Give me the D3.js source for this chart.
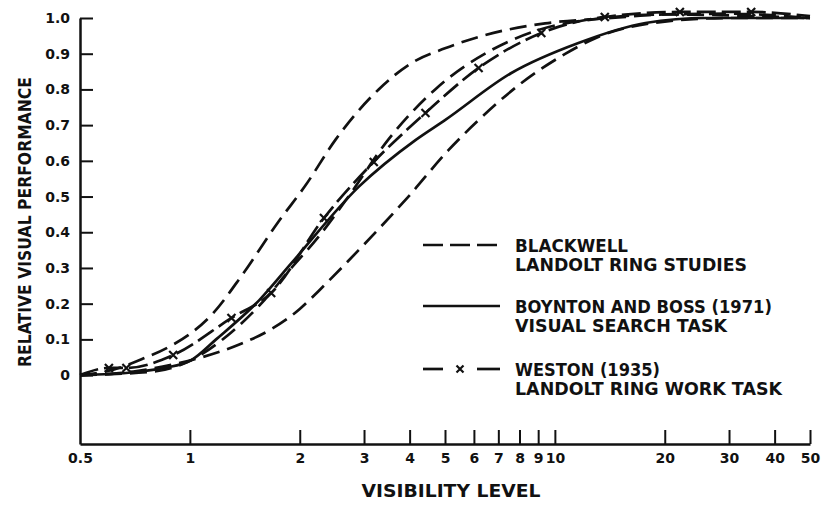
<!DOCTYPE html>
<html>
<head>
<meta charset="utf-8">
<script src="https://cdn.jsdelivr.net/npm/d3@7"></script>
<style>
  body { margin: 0; background: #fff; }
  text { font-family: "DejaVu Sans", sans-serif; font-weight: bold; fill: #111; }
</style>
</head>
<body>
<div id="chart"></div>
<script>
// Tick values
var xTicks = [0.5, 1, 2, 3, 4, 5, 6, 7, 8, 9, 10, 20, 30, 40, 50];
var yTicks = [0, 0.1, 0.2, 0.3, 0.4, 0.5, 0.6, 0.7, 0.8, 0.9, 1.0];

// Blackwell - Landolt ring studies (three dashed curves)
var blackwellHiX = [0.5, 0.6, 0.74, 0.88, 1.0, 1.15, 1.39, 1.75, 2.07, 2.51, 3.29, 4.05, 5.0, 6.18, 9.4, 14.3, 20, 30, 50];
var blackwellHiY = [0, 0.012, 0.045, 0.08, 0.115, 0.17, 0.28, 0.43, 0.53, 0.66, 0.8, 0.874, 0.915, 0.947, 0.985, 1.0, 1.01, 1.012, 1.0];

var blackwellMidX = [0.5, 0.8, 1.0, 1.3, 1.6, 1.86, 2.25, 2.72, 3.5, 4.7, 6.7, 9.0, 13.7, 20, 50];
var blackwellMidY = [0, 0.01, 0.04, 0.12, 0.21, 0.29, 0.387, 0.5, 0.66, 0.8, 0.91, 0.966, 1.0, 1.01, 1.0];

var blackwellLoX = [0.5, 0.7, 0.9, 1.08, 1.36, 1.68, 2.0, 2.25, 2.9, 3.97, 5.11, 6.18, 8.1, 10.7, 13, 20, 30, 50];
var blackwellLoY = [0, 0.01, 0.03, 0.05, 0.085, 0.13, 0.185, 0.235, 0.35, 0.5, 0.63, 0.714, 0.818, 0.9, 0.945, 0.99, 1.0, 1.0];

// Boynton and Boss (1971) - visual search task (solid)
var boyntonX = [0.5, 0.7, 0.85, 1.01, 1.18, 1.55, 1.9, 2.9, 4.15, 5.0, 7.6, 11.6, 17.7, 26, 50];
var boyntonY = [0, 0.008, 0.02, 0.042, 0.1, 0.21, 0.314, 0.527, 0.658, 0.714, 0.846, 0.93, 0.986, 1.0, 1.0];

// Weston (1935) - Landolt ring work task (dashed with x markers)
var westonX = [0.5, 0.6, 0.67, 0.9, 1.3, 1.67, 2.33, 3.19, 4.42, 6.18, 9.18, 13.7, 22, 34.5, 50];
var westonY = [0, 0.02, 0.02, 0.056, 0.16, 0.23, 0.44, 0.597, 0.734, 0.86, 0.958, 1.003, 1.017, 1.017, 1.005];

// Legend text
var legendLines = [
  ["BLACKWELL", "LANDOLT RING STUDIES"],
  ["BOYNTON AND BOSS (1971)", "VISUAL SEARCH TASK"],
  ["WESTON (1935)", "LANDOLT RING WORK TASK"]
];

var svg_Width = 821;
var svg_Height = 505;

var svg = d3.select("#chart")
  .append("svg")
  .attr("width", svg_Width)
  .attr("height", svg_Height);

// log scale on x, y axis runs below 0 down to the x axis
var xScale = d3.scaleLog().domain([0.5, 50]).range([80, 810]);
var yScale = d3.scaleLinear().domain([-0.193, 1]).range([444, 18]);

var ink = "#111";

// axes
var xAxis = d3.axisBottom(xScale)
  .tickValues(xTicks)
  .tickFormat(d3.format(""))
  .tickSizeInner(-14)
  .tickSizeOuter(0)
  .tickPadding(9);

var yAxis = d3.axisLeft(yScale)
  .tickValues(yTicks)
  .tickFormat(d => d === 0 ? "0" : d3.format(".1f")(d))
  .tickSizeInner(-13)
  .tickSizeOuter(0)
  .tickPadding(10);

var gx = svg.append("g")
  .attr("transform", `translate(0, ${yScale.range()[0]})`)
  .call(xAxis);

var gy = svg.append("g")
  .attr("transform", `translate(${xScale.range()[0]}, 0)`)
  .call(yAxis);

[gx, gy].forEach(function(g) {
  g.select(".domain").attr("stroke", ink).attr("stroke-width", 2.5);
  g.selectAll(".tick line").attr("stroke", ink).attr("stroke-width", 2);
  g.selectAll(".tick text")
    .attr("fill", ink)
    .style("font-size", "14px")
    .style("font-family", "DejaVu Sans")
    .style("font-weight", "bold");
});
gx.select(".tick line").remove(); // 0.5 sits on the y axis

// axis titles
svg.append("text")
  .attr("x", 451)
  .attr("y", 497)
  .attr("text-anchor", "middle")
  .attr("textLength", 179)
  .attr("lengthAdjust", "spacingAndGlyphs")
  .style("font-size", "18px")
  .text("VISIBILITY LEVEL");

svg.append("text")
  .attr("transform", "translate(31, 222) rotate(-90)")
  .attr("text-anchor", "middle")
  .attr("textLength", 290)
  .attr("lengthAdjust", "spacingAndGlyphs")
  .style("font-size", "18px")
  .text("RELATIVE VISUAL PERFORMANCE");

// curves
var line = d3.line()
  .x(d => xScale(d[0]))
  .y(d => yScale(d[1]))
  .curve(d3.curveMonotoneX);

function pairs(xs, ys) {
  return xs.map((x, i) => [x, ys[i]]);
}

var curves = [
  { data: pairs(blackwellHiX, blackwellHiY), dash: "17,8" },
  { data: pairs(blackwellMidX, blackwellMidY), dash: "17,8" },
  { data: pairs(blackwellLoX, blackwellLoY), dash: "17,8" },
  { data: pairs(boyntonX, boyntonY), dash: null },
  { data: pairs(westonX, westonY), dash: "19,6" }
];

svg.selectAll(".curve")
  .data(curves)
  .enter()
  .append("path")
  .attr("class", "curve")
  .attr("d", d => line(d.data))
  .attr("fill", "none")
  .attr("stroke", ink)
  .attr("stroke-width", 2.7)
  .attr("stroke-dasharray", d => d.dash);

// Weston x markers
var markerData = pairs(westonX, westonY).slice(1, -1);

function cross(sel, s) {
  sel.append("path")
    .attr("d", `M${-s},${-s}L${s},${s}M${-s},${s}L${s},${-s}`)
    .attr("stroke", ink)
    .attr("stroke-width", 2.2)
    .attr("fill", "none");
}

svg.selectAll(".mark")
  .data(markerData)
  .enter()
  .append("g")
  .attr("class", "mark")
  .attr("transform", d => `translate(${xScale(d[0])}, ${yScale(d[1])})`)
  .call(cross, 4);

// legend
var legendX = 423;
var legendRows = [245, 306, 369];
var legendWidths = [[113, 232], [257, 212], [145, 267]];

legendRows.forEach(function(ly, i) {
  if (i === 2) {
    svg.append("line").attr("x1", legendX).attr("x2", legendX + 20)
      .attr("y1", ly).attr("y2", ly).attr("stroke", ink).attr("stroke-width", 2.7);
    svg.append("line").attr("x1", legendX + 54).attr("x2", legendX + 77)
      .attr("y1", ly).attr("y2", ly).attr("stroke", ink).attr("stroke-width", 2.7);
    svg.append("g").attr("transform", `translate(${legendX + 37}, ${ly})`).call(cross, 3.5);
  } else {
    svg.append("line")
      .attr("x1", legendX).attr("x2", legendX + 77)
      .attr("y1", ly).attr("y2", ly)
      .attr("stroke", ink)
      .attr("stroke-width", 2.7)
      .attr("stroke-dasharray", i === 0 ? "20,7" : null);
  }
  legendLines[i].forEach(function(t, j) {
    svg.append("text")
      .attr("x", 515)
      .attr("y", ly + 7 + j * 19)
      .attr("textLength", legendWidths[i][j])
      .attr("lengthAdjust", "spacingAndGlyphs")
      .style("font-size", "18px")
      .text(t);
  });
});
</script>
</body>
</html>
